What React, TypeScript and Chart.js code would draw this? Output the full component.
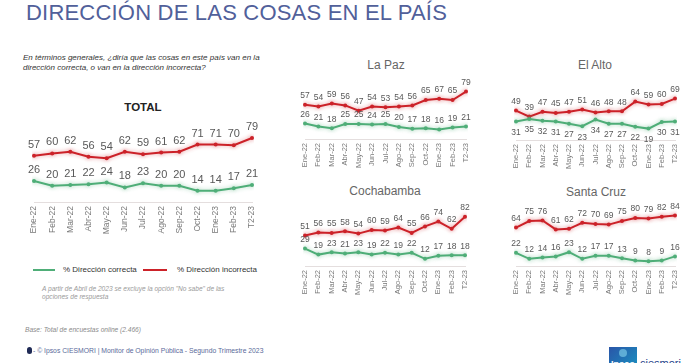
import React, { useEffect, useRef } from "react";
import { Chart, registerables } from "chart.js";

Chart.register(...registerables);

const categories = ["Ene-22", "Feb-22", "Mar-22", "Abr-22", "May-22", "Jun-22", "Jul-22", "Ago-22", "Sep-22", "Oct-22", "Ene-23", "Feb-23", "T2-23"];

const totalCorrecta = [26, 20, 21, 22, 24, 18, 23, 20, 20, 14, 14, 17, 21];
const totalIncorrecta = [57, 60, 62, 56, 54, 62, 59, 61, 62, 71, 71, 70, 79];

const laPazCorrecta = [26, 21, 18, 25, 25, 24, 25, 20, 17, 18, 16, 19, 21];
const laPazIncorrecta = [57, 54, 59, 56, 47, 54, 53, 54, 56, 65, 67, 65, 79];

const elAltoCorrecta = [31, 35, 32, 31, 27, 23, 34, 27, 27, 22, 19, 30, 31];
const elAltoIncorrecta = [49, 39, 47, 45, 47, 51, 46, 48, 48, 64, 59, 60, 69];

const cochabambaCorrecta = [29, 19, 23, 21, 23, 19, 22, 19, 22, 12, 17, 18, 18];
const cochabambaIncorrecta = [51, 56, 55, 58, 54, 60, 59, 64, 55, 66, 74, 62, 82];

const santaCruzCorrecta = [22, 12, 14, 16, 23, 12, 17, 17, 13, 9, 8, 9, 16];
const santaCruzIncorrecta = [64, 75, 76, 61, 62, 72, 70, 69, 75, 80, 79, 82, 84];

const legendLabels = ["% Dirección correcta", "% Dirección incorrecta"];

const GREEN = "#4fae78";
const RED = "#cc2229";
const FONT = '"Liberation Sans", Arial, sans-serif';

const valueLabels = {
  id: "valueLabels",
  afterDatasetsDraw(chart: any, _args: any, opts: any) {
    const ctx = chart.ctx;
    ctx.save();
    ctx.font = `${opts.size}px ${FONT}`;
    ctx.fillStyle = opts.color;
    ctx.textAlign = "center";
    ctx.textBaseline = "middle";
    chart.data.datasets.forEach((ds: any, i: number) => {
      const meta = chart.getDatasetMeta(i);
      const off = opts.offsets[i];
      meta.data.forEach((pt: any, j: number) => {
        ctx.fillText(String(ds.data[j]), pt.x, pt.y + off);
      });
    });
    ctx.restore();
  },
};

const glow = {
  id: "glow",
  beforeDatasetDraw(chart: any, args: any) {
    const ctx = chart.ctx;
    ctx.save();
    const ds = chart.data.datasets[args.index];
    ctx.shadowColor = ds.glowColor;
    ctx.shadowBlur = 4;
  },
  afterDatasetDraw(chart: any) {
    chart.ctx.restore();
  },
};

type Props = {
  left: number;
  top: number;
  width: number;
  height: number;
  pad: { left: number; right: number; top: number };
  axisH: number;
  tickSize: number;
  labelSize: number;
  offsets: number[];
  correcta: number[];
  incorrecta: number[];
};

function LineChart(p: Props) {
  const ref = useRef<HTMLCanvasElement | null>(null);
  useEffect(() => {
    if (!ref.current) return;
    const chart = new Chart(ref.current, {
      type: "line",
      data: {
        labels: categories,
        datasets: [
          {
            label: legendLabels[0],
            data: p.correcta,
            borderColor: GREEN,
            backgroundColor: GREEN,
            glowColor: "rgba(79,174,120,0.45)",
          } as any,
          {
            label: legendLabels[1],
            data: p.incorrecta,
            borderColor: RED,
            backgroundColor: RED,
            glowColor: "rgba(204,34,41,0.45)",
          } as any,
        ],
      },
      options: {
        animation: false,
        responsive: false,
        maintainAspectRatio: false,
        layout: { padding: { left: p.pad.left, right: p.pad.right, top: p.pad.top, bottom: 0 } },
        elements: {
          line: { borderWidth: 2, tension: 0 },
          point: { radius: 2, hoverRadius: 2, borderWidth: 0 },
        },
        plugins: {
          legend: { display: false },
          tooltip: { enabled: false },
          valueLabels: { size: p.labelSize, color: "#585858", offsets: p.offsets },
        } as any,
        scales: {
          x: {
            offset: false,
            grid: { display: false, drawTicks: false },
            border: { display: true, color: "#e4dede", width: 1 },
            ticks: {
              minRotation: 90,
              maxRotation: 90,
              autoSkip: false,
              padding: 4,
              color: "#7a7a7a",
              font: { size: p.tickSize, family: FONT },
            },
            afterFit: (s: any) => {
              s.height = p.axisH;
            },
          },
          y: { display: false, min: 0, max: 100 },
        },
      },
      plugins: [valueLabels, glow],
    });
    return () => chart.destroy();
  }, []);
  return (
    <canvas
      ref={ref}
      width={p.width}
      height={p.height}
      style={{ position: "absolute", left: p.left, top: p.top, width: p.width, height: p.height }}
    />
  );
}

const abs = (o: React.CSSProperties): React.CSSProperties => ({ position: "absolute", whiteSpace: "nowrap", fontFamily: FONT, ...o });

function SubTitle({ text, cx, cy }: { text: string; cx: number; cy: number }) {
  return (
    <div style={abs({ left: cx - 60, top: cy - 7, width: 120, textAlign: "center", fontSize: 12, lineHeight: "14px", color: "#666" })}>
      {text}
    </div>
  );
}

export default function App() {
  return (
    <div style={{ position: "absolute", left: 0, top: 0, width: 696, height: 363, overflow: "hidden", background: "#fff" }}>
      <div style={abs({ left: 26, top: 2, fontSize: 22, lineHeight: "22px", color: "#51609a", letterSpacing: 0.2 })}>
        DIRECCIÓN DE LAS COSAS EN EL PAÍS
      </div>
      <div style={abs({ left: 23, top: 53, fontSize: 8, lineHeight: "10px", fontStyle: "italic", color: "#333" })}>
        En términos generales, ¿diría que las cosas en este país van en la
        <br />
        dirección correcta, o van en la dirección incorrecta?
      </div>
      <div style={abs({ left: 103, top: 100, width: 80, textAlign: "center", fontSize: 11.5, lineHeight: "14px", fontWeight: "bold", color: "#222" })}>
        TOTAL
      </div>

      <LineChart
        left={20}
        top={112}
        width={248}
        height={128}
        pad={{ left: 14, right: 16, top: 9 }}
        axisH={38}
        tickSize={8.5}
        labelSize={11}
        offsets={[-11, -11]}
        correcta={totalCorrecta}
        incorrecta={totalIncorrecta}
      />

      <SubTitle text="La Paz" cx={386} cy={65} />
      <LineChart
        left={290}
        top={70}
        width={190}
        height={104}
        pad={{ left: 15, right: 14, top: 9 }}
        axisH={35}
        tickSize={7.5}
        labelSize={8.5}
        offsets={[-9, -9]}
        correcta={laPazCorrecta}
        incorrecta={laPazIncorrecta}
      />

      <SubTitle text="El Alto" cx={595} cy={65} />
      <LineChart
        left={500}
        top={70}
        width={190}
        height={105}
        pad={{ left: 16, right: 15, top: 10 }}
        axisH={35}
        tickSize={7.5}
        labelSize={8.5}
        offsets={[11, -9]}
        correcta={elAltoCorrecta}
        incorrecta={elAltoIncorrecta}
      />

      <SubTitle text="Cochabamba" cx={385} cy={191} />
      <LineChart
        left={290}
        top={196}
        width={190}
        height={105}
        pad={{ left: 15, right: 15, top: 10 }}
        axisH={35}
        tickSize={7.5}
        labelSize={8.5}
        offsets={[-9, -9]}
        correcta={cochabambaCorrecta}
        incorrecta={cochabambaIncorrecta}
      />

      <SubTitle text="Santa Cruz" cx={596} cy={192} />
      <LineChart
        left={500}
        top={196}
        width={190}
        height={105}
        pad={{ left: 16, right: 15, top: 10 }}
        axisH={35}
        tickSize={7.5}
        labelSize={8.5}
        offsets={[-9, -9]}
        correcta={santaCruzCorrecta}
        incorrecta={santaCruzIncorrecta}
      />

      {/* legend */}
      <div style={abs({ left: 33, top: 269, width: 22, height: 2, background: GREEN })} />
      <div style={abs({ left: 63, top: 265, fontSize: 8, lineHeight: "10px", color: "#333" })}>{legendLabels[0]}</div>
      <div style={abs({ left: 143, top: 269, width: 24, height: 2, background: RED })} />
      <div style={abs({ left: 177, top: 265, fontSize: 8, lineHeight: "10px", color: "#333" })}>{legendLabels[1]}</div>

      <div style={abs({ left: 42, top: 285, fontSize: 6.6, lineHeight: "8px", fontStyle: "italic", color: "#9a9a9a" })}>
        A partir de Abril de 2023 se excluye la opción "No sabe" de las
        <br />
        opciones de respuesta
      </div>

      <div style={abs({ left: 25, top: 326, fontSize: 6.6, lineHeight: "8px", fontStyle: "italic", color: "#8a8a8a" })}>
        Base: Total de encuestas online (2.466)
      </div>

      <div style={abs({ left: 27, top: 347, width: 5, height: 7, borderRadius: 3, background: "#1f2a55" })} />
      <div style={abs({ left: 33, top: 346, fontSize: 6.8, lineHeight: "9px", color: "#5a6a9a" })}>
        - © Ipsos CIESMORI | Monitor de Opinión Pública - Segundo Trimestre 2023
      </div>

      {/* logo */}
      <div style={abs({ left: 609, top: 347, width: 28, height: 20, background: "linear-gradient(135deg,#2a55a8,#1a8fc0)" })}>
        <div style={abs({ left: 10, top: 2, width: 8, height: 8, borderRadius: 4, background: "rgba(120,200,230,0.7)" })} />
        <div style={abs({ left: 2, top: 12, fontSize: 9, lineHeight: "10px", color: "#fff", fontWeight: "bold" })}>Ipsos</div>
      </div>
      <div style={abs({ left: 640, top: 357, fontSize: 11, lineHeight: "12px", color: "#1e3f8a" })}>ciesmori</div>
    </div>
  );
}
